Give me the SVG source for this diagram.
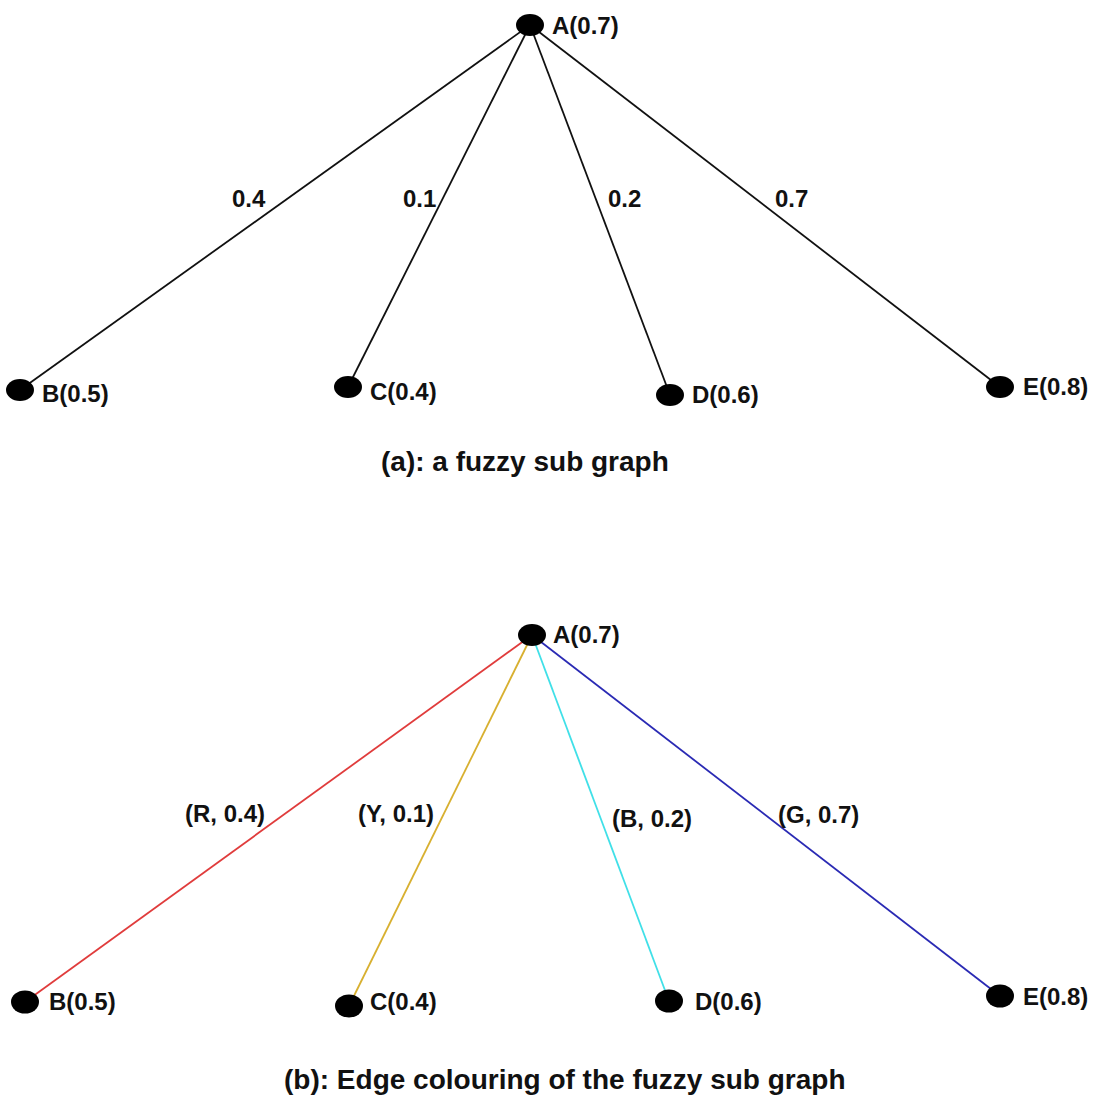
<svg xmlns="http://www.w3.org/2000/svg" width="1101" height="1099" viewBox="0 0 1101 1099">
<style>
text{font-family:"Liberation Sans",Arial,sans-serif;font-weight:bold;fill:#111;}
.nl{font-size:24px;}
.el{font-size:24px;}
.title{font-size:28px;}
.node{fill:#000;}
.e{stroke-width:1.8;fill:none;}
</style>
<rect width="1101" height="1099" fill="#fff"/>
<g id="connectors">
<line class="e" stroke="#111" x1="530" y1="25" x2="20" y2="390"/>
<line class="e" stroke="#111" x1="530" y1="25" x2="348" y2="387"/>
<line class="e" stroke="#111" x1="530" y1="25" x2="670" y2="395"/>
<line class="e" stroke="#111" x1="530" y1="25" x2="1000" y2="387"/>
<line class="e" stroke="#e03c3c" x1="532" y1="635" x2="25" y2="1002"/>
<line class="e" stroke="#d8b030" x1="532" y1="635" x2="349" y2="1006"/>
<line class="e" stroke="#40e0e8" x1="532" y1="635" x2="669" y2="1001"/>
<line class="e" stroke="#2a2ab4" x1="532" y1="635" x2="1000" y2="996"/>
</g>
<g id="edge-labels">
<text class="el" x="232" y="207">0.4</text>
<text class="el" x="403" y="207">0.1</text>
<text class="el" x="608" y="207">0.2</text>
<text class="el" x="775" y="207">0.7</text>
<text class="el" x="185" y="822">(R, 0.4)</text>
<text class="el" x="358" y="822">(Y, 0.1)</text>
<text class="el" x="612" y="827">(B, 0.2)</text>
<text class="el" x="778" y="823">(G, 0.7)</text>
</g>
<g id="a-A"><ellipse class="node" cx="530" cy="25" rx="14" ry="11"/><text class="nl" x="552" y="34">A(0.7)</text></g>
<g id="a-B"><ellipse class="node" cx="20" cy="390" rx="14" ry="11"/><text class="nl" x="42" y="402">B(0.5)</text></g>
<g id="a-C"><ellipse class="node" cx="348" cy="387" rx="14" ry="11"/><text class="nl" x="370" y="400">C(0.4)</text></g>
<g id="a-D"><ellipse class="node" cx="670" cy="395" rx="14" ry="11"/><text class="nl" x="692" y="403">D(0.6)</text></g>
<g id="a-E"><ellipse class="node" cx="1000" cy="387" rx="14" ry="11"/><text class="nl" x="1023" y="395">E(0.8)</text></g>
<g id="b-A"><ellipse class="node" cx="532" cy="635" rx="14" ry="11"/><text class="nl" x="553" y="643">A(0.7)</text></g>
<g id="b-B"><ellipse class="node" cx="25" cy="1002" rx="14" ry="11.5"/><text class="nl" x="49" y="1010">B(0.5)</text></g>
<g id="b-C"><ellipse class="node" cx="349" cy="1006" rx="14" ry="11.5"/><text class="nl" x="370" y="1010">C(0.4)</text></g>
<g id="b-D"><ellipse class="node" cx="669" cy="1001" rx="14" ry="11.5"/><text class="nl" x="695" y="1010">D(0.6)</text></g>
<g id="b-E"><ellipse class="node" cx="1000" cy="996" rx="14" ry="11.5"/><text class="nl" x="1023" y="1005">E(0.8)</text></g>
<g id="titles">
<text class="title" x="381" y="471">(a): a fuzzy sub graph</text>
<text class="title" x="284" y="1089">(b): Edge colouring of the fuzzy sub graph</text>
</g>
</svg>
